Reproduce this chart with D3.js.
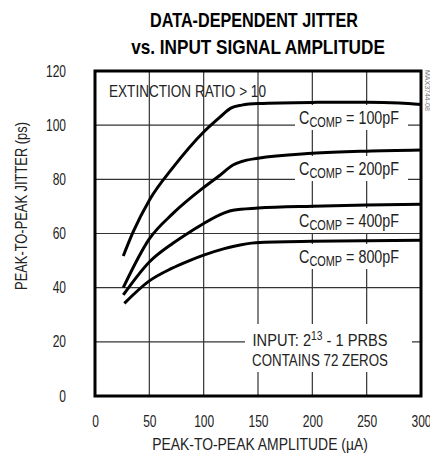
<!DOCTYPE html>
<html>
<head>
<meta charset="utf-8">
<script src="https://cdn.jsdelivr.net/npm/d3@7"></script>
<style>
  body { margin: 0; background: #fff; }
  svg { display: block; font-family: "Liberation Sans", Arial, sans-serif; }
</style>
</head>
<body>
<div id="chart"></div>
<script>
// values
const xTicks = [0, 50, 100, 150, 200, 250, 300];
const yTicks = [0, 20, 40, 60, 80, 100, 120];

const amp100 = [26, 35, 50, 72, 100, 115, 125, 135, 150, 200, 250, 280, 300];
const jit100 = [51.7, 60.5, 72.3, 84.5, 97.5, 103, 106.3, 107.4, 108, 108.4, 108.5, 108.2, 107.6];

const amp200 = [26, 50, 72, 100, 115, 127, 135, 150, 200, 250, 300];
const jit200 = [40, 58, 67.5, 77, 81.5, 85.3, 86.6, 87.8, 89.6, 90.4, 90.8];

const amp400 = [26, 50, 72, 87, 100, 119, 127, 150, 200, 250, 300];
const jit400 = [37.3, 49.5, 56.5, 60.5, 63.7, 67.6, 68.6, 69.4, 70.1, 70.5, 70.8];

const amp800 = [27, 50, 70, 87, 100, 119, 127, 148, 200, 250, 300];
const jit800 = [34.2, 42.5, 47, 50, 52, 54.4, 55.2, 56.6, 57.1, 57.3, 57.5];

const capLabels = ["100pF", "200pF", "400pF", "800pF"];

const width = 430, height = 454;
const x = d3.scaleLinear().domain([0, 300]).range([95, 421]);
const y = d3.scaleLinear().domain([0, 120]).range([396, 71]);

const svg = d3.select('#chart').append('svg')
  .attr('width', width)
  .attr('height', height);

// squeeze a text horizontally to a given width (reference font is condensed)
function place(t, cx, cy, w, rot) {
  const len = t.node().getComputedTextLength();
  t.attr('x', 0).attr('y', 0)
    .attr('transform', `translate(${cx},${cy})` + (rot ? ` rotate(${rot})` : '') + ` scale(${w / len},1)`);
  return t;
}

// title
place(svg.append('text')
  .attr('text-anchor', 'middle')
  .attr('font-size', 20).attr('font-weight', 'bold')
  .text('DATA-DEPENDENT JITTER'), 254, 27, 208);
place(svg.append('text')
  .attr('text-anchor', 'middle')
  .attr('font-size', 20).attr('font-weight', 'bold')
  .text('vs. INPUT SIGNAL AMPLITUDE'), 258, 54, 254);

// grid
const grid = svg.append('g').attr('stroke', '#333').attr('stroke-width', 1.2);
grid.selectAll('.vg')
  .data(xTicks.slice(1, -1))
  .enter().append('line')
  .attr('x1', d => x(d)).attr('x2', d => x(d))
  .attr('y1', y(120)).attr('y2', y(0));
grid.selectAll('.hg')
  .data(yTicks.slice(1, -1))
  .enter().append('line')
  .attr('x1', x(0)).attr('x2', x(300))
  .attr('y1', d => y(d)).attr('y2', d => y(d));

// axes (labels only)
const k = 0.75;
const yAxis = svg.append('g')
  .attr('transform', `translate(${x(0)},0)`)
  .call(d3.axisLeft(y).tickValues(yTicks).tickSize(0).tickPadding(29));
const xAxis = svg.append('g')
  .attr('transform', `translate(0,${y(0)})`)
  .call(d3.axisBottom(x).tickValues(xTicks).tickSize(0).tickPadding(20));
[yAxis, xAxis].forEach(a => {
  a.select('.domain').remove();
  a.selectAll('text')
    .attr('font-family', '"Liberation Sans", Arial, sans-serif')
    .attr('font-size', 16)
    .attr('fill', '#222');
});
yAxis.selectAll('text')
  .attr('x', -29 / k)
  .attr('transform', `scale(${k},1)`);
xAxis.selectAll('text')
  .attr('transform', `scale(${k},1)`);

place(svg.append('text')
  .attr('text-anchor', 'middle')
  .attr('font-size', 16.5).attr('fill', '#222')
  .text('PEAK-TO-PEAK JITTER (ps)'), 27, 206, 168, -90);
place(svg.append('text')
  .attr('text-anchor', 'middle')
  .attr('font-size', 16.5).attr('fill', '#222')
  .text('PEAK-TO-PEAK AMPLITUDE (µA)'), 260, 450, 216);

// annotation boxes
const capBase = [124, 175, 227, 263];
svg.selectAll('.capbox')
  .data(capBase)
  .enter().append('rect')
  .attr('x', 295).attr('width', 113)
  .attr('y', d => d - 19).attr('height', 25)
  .attr('fill', '#fff');
svg.append('rect')
  .attr('x', 245).attr('y', 324).attr('width', 167).attr('height', 48)
  .attr('fill', '#fff');

capLabels.forEach((lab, i) => {
  const t = svg.append('text')
    .attr('text-anchor', 'middle')
    .attr('font-size', 19).attr('fill', '#222');
  t.append('tspan').text('C');
  t.append('tspan').attr('font-size', 14.5).attr('dy', 3).text('COMP');
  t.append('tspan').attr('dy', -3).text(' = ' + lab);
  place(t, 349, capBase[i], 100);
});

const ext = svg.append('text')
  .attr('font-size', 17).attr('fill', '#222')
  .text('EXTINCTION RATIO > 10');
place(ext, 109, 96.5, 157);

const inp = svg.append('text')
  .attr('text-anchor', 'middle')
  .attr('font-size', 17).attr('fill', '#222');
inp.append('tspan').text('INPUT:  2');
inp.append('tspan').attr('font-size', 12).attr('dy', -6).text('13');
inp.append('tspan').attr('dy', 6).text(' - 1 PRBS');
place(inp, 320, 346, 135);
place(svg.append('text')
  .attr('text-anchor', 'middle')
  .attr('font-size', 17).attr('fill', '#222')
  .text('CONTAINS 72 ZEROS'), 320, 366, 136);

// curves
const series = [
  amp100.map((a, i) => [a, jit100[i]]),
  amp200.map((a, i) => [a, jit200[i]]),
  amp400.map((a, i) => [a, jit400[i]]),
  amp800.map((a, i) => [a, jit800[i]])
];
const line = d3.line()
  .x(d => x(d[0]))
  .y(d => y(d[1]))
  .curve(d3.curveMonotoneX);
svg.selectAll('.curve')
  .data(series)
  .enter().append('path')
  .attr('d', line)
  .attr('fill', 'none')
  .attr('stroke', '#000')
  .attr('stroke-width', 3);

// frame
svg.append('rect')
  .attr('x', x(0)).attr('y', y(120))
  .attr('width', x(300) - x(0)).attr('height', y(0) - y(120))
  .attr('fill', 'none')
  .attr('stroke', '#000')
  .attr('stroke-width', 3);

svg.append('text')
  .attr('transform', 'translate(425,70) rotate(90)')
  .attr('font-size', 7).attr('fill', '#777')
  .text('MAX3744-08');
</script>
</body>
</html>
